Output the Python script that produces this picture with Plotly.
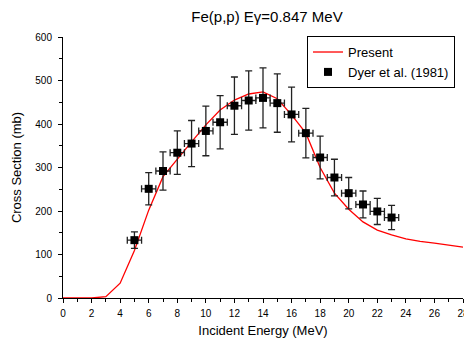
import plotly.graph_objects as go

# Model curve ("Present")
present_energy = list(range(0, 29))
present_cs = [0, 0, 0, 3, 34, 109, 202, 279, 320, 359, 398, 432, 455, 469, 474,
              458, 421, 379, 300, 241, 204, 175, 156, 145, 136, 130, 126, 121, 117]

# Experimental data (Dyer et al. 1981)
dyer_energy = [5, 6, 7, 8, 9, 10, 11, 12, 13, 14, 15, 16, 17, 18, 19, 20, 21, 22, 23]
dyer_cs = [133, 251, 292, 334, 355, 384, 404, 442, 454, 460, 448, 422, 379, 323, 277, 241, 215, 199, 185]
dyer_err = [19, 37, 44, 50, 53, 57, 61, 66, 68, 69, 67, 63, 57, 49, 42, 36, 31, 30, 28]
dyer_xerr = [0.5] * len(dyer_energy)

FONT = "Liberation Sans, Arial, sans-serif"

fig = go.Figure()
fig.add_trace(go.Scatter(
    x=present_energy, y=present_cs, mode="lines", name="Present",
    line=dict(color="#ff0000", width=1.3),
))
fig.add_trace(go.Scatter(
    x=dyer_energy, y=dyer_cs, mode="markers", name="Dyer et al. (1981)",
    marker=dict(symbol="square", size=8, color="black"),
    error_y=dict(type="data", array=dyer_err, color="#222222", thickness=1.3, width=3.5),
    error_x=dict(type="data", array=dyer_xerr, color="#222222", thickness=1.3, width=3.5),
))

fig.update_layout(
    width=464, height=338,
    margin=dict(l=63, r=1, t=37, b=40),
    paper_bgcolor="white", plot_bgcolor="white",
    font=dict(family=FONT, color="black", size=10),
    showlegend=True,
    title=dict(text="Fe(p,p) Eγ=0.847 MeV", font=dict(size=15, family=FONT, color="black"),
               x=0.51, xref="paper", xanchor="center",
               y=1 - 17 / 338, yref="container", yanchor="middle"),
    legend=dict(x=0.61, y=0.904, xanchor="left", yanchor="middle",
                bordercolor="black", borderwidth=1, bgcolor="white",
                font=dict(size=13, family=FONT, color="black"), tracegroupgap=0,
                itemwidth=30),
    xaxis=dict(range=[0, 28], tick0=0, dtick=2, ticks="outside", ticklen=4,
               tickcolor="black", showline=True, linecolor="black", linewidth=1,
               showgrid=False, zeroline=False, automargin=False,
               ticklabeloverflow="allow", ticklabelstandoff=2,
               minor=dict(dtick=1, ticks="outside", ticklen=3, tickcolor="black"),
               title=dict(text="Incident Energy (MeV)", font=dict(size=13, color="black"), standoff=9),
               tickfont=dict(size=10, color="black")),
    yaxis=dict(range=[0, 600], tick0=0, dtick=100, ticks="outside", ticklen=4,
               tickcolor="black", showline=True, linecolor="black", linewidth=1,
               showgrid=False, zeroline=False, automargin=False,
               ticklabeloverflow="allow", ticklabelstandoff=4,
               minor=dict(dtick=50, ticks="outside", ticklen=3, tickcolor="black"),
               title=dict(text="Cross Section (mb)", font=dict(size=13, color="black"), standoff=10),
               tickfont=dict(size=10, color="black")),
    xaxis2=dict(overlaying="x", side="top", range=[0, 28], dtick=1, tick0=0,
                ticks="inside", ticklen=5, tickcolor="black", showticklabels=False,
                showline=True, linecolor="black", linewidth=1, showgrid=False,
                zeroline=False, automargin=False),
    yaxis2=dict(overlaying="y", side="right", range=[0, 600], dtick=50, tick0=0,
                ticks="inside", ticklen=5, tickcolor="black", showticklabels=False,
                showline=True, linecolor="black", linewidth=1, showgrid=False,
                zeroline=False, automargin=False),
)

fig.write_html("out.html", config={"displayModeBar": False},
               post_script="document.body.style.margin='0px';")
